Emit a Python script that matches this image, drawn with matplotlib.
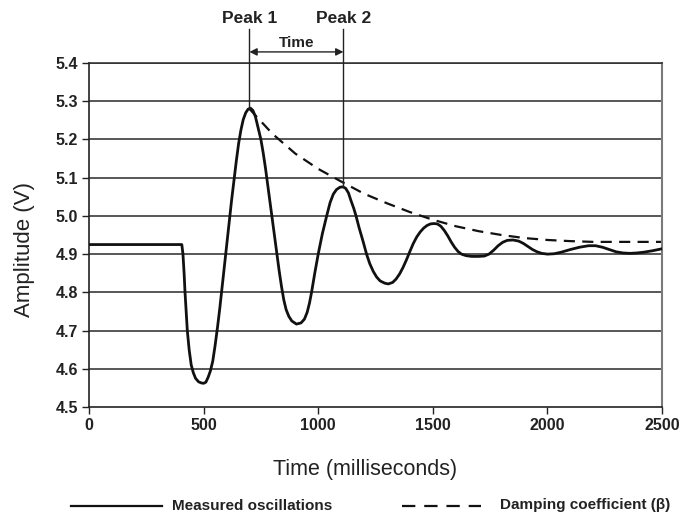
import matplotlib
matplotlib.use("Agg")
import matplotlib.pyplot as plt
from matplotlib.lines import Line2D

plt.rcParams['font.family'] = ['Liberation Sans', 'DejaVu Sans']

# Measured oscillations (time ms, amplitude V)
meas_t = [0, 405, 410, 415, 419, 424, 429, 437, 446, 455, 465, 478, 490, 500, 510,
          520, 530, 540, 550, 561, 571, 582, 592, 602, 612, 622, 633, 643, 653, 663,
          673, 684, 694, 704, 715, 726, 738, 750, 760, 770, 780, 790, 800, 810, 820,
          830, 840, 850, 860, 872, 885, 905, 925, 940, 952, 962, 971, 985, 1000, 1018,
          1037, 1052, 1066, 1080, 1095, 1108, 1120, 1132, 1143, 1155, 1165, 1178,
          1195, 1211, 1225, 1240, 1255, 1270, 1290, 1306, 1325, 1340, 1355, 1370,
          1385, 1400, 1415, 1430, 1445, 1460, 1475, 1490, 1505, 1520, 1535, 1550,
          1565, 1580, 1595, 1610, 1625, 1645, 1670, 1700, 1725, 1745, 1765, 1785,
          1805, 1825, 1850, 1875, 1895, 1915, 1935, 1955, 1975, 2000, 2030, 2060,
          2100, 2140, 2180, 2210, 2240, 2270, 2300, 2330, 2360, 2390, 2420, 2460, 2500]
meas_v = [4.925, 4.925, 4.90, 4.85, 4.80, 4.75, 4.70, 4.65, 4.61, 4.59, 4.575, 4.566,
          4.563, 4.562, 4.565, 4.578, 4.595, 4.62, 4.66, 4.71, 4.76, 4.82, 4.875, 4.93,
          4.985, 5.04, 5.095, 5.145, 5.19, 5.225, 5.252, 5.27, 5.279, 5.282, 5.276,
          5.26, 5.23, 5.20, 5.165, 5.125, 5.08, 5.035, 4.99, 4.945, 4.90, 4.855, 4.815,
          4.78, 4.755, 4.737, 4.725, 4.717, 4.72, 4.73, 4.748, 4.772, 4.80, 4.85, 4.90,
          4.953, 5.00, 5.035, 5.057, 5.069, 5.075, 5.076, 5.072, 5.06, 5.04, 5.02, 5.00,
          4.97, 4.935, 4.90, 4.875, 4.855, 4.84, 4.83, 4.824, 4.822, 4.826, 4.835,
          4.848, 4.865, 4.885, 4.907, 4.928, 4.945, 4.958, 4.968, 4.975, 4.979, 4.98,
          4.979, 4.973, 4.962, 4.948, 4.932, 4.918, 4.907, 4.90, 4.896, 4.894, 4.894,
          4.895, 4.90, 4.91, 4.922, 4.931, 4.936, 4.937, 4.934, 4.928, 4.92, 4.912,
          4.906, 4.902, 4.90, 4.901, 4.905, 4.912, 4.918, 4.922, 4.922, 4.918, 4.912,
          4.906, 4.903, 4.902, 4.903, 4.905, 4.909, 4.914]

# Damping envelope
damp_t = [700, 800, 900, 1000, 1100, 1200, 1300, 1400, 1500, 1600, 1700, 1800,
          1900, 2000, 2100, 2200, 2300, 2400, 2500]
damp_v = [5.28, 5.215, 5.163, 5.123, 5.09, 5.058, 5.033, 5.01, 4.99, 4.973, 4.96,
          4.95, 4.942, 4.937, 4.934, 4.932, 4.932, 4.932, 4.932]

peak_times = [700, 1110]
peak_values = [5.282, 5.076]
peak_labels = ["Peak 1", "Peak 2"]

y_ticks = [4.5, 4.6, 4.7, 4.8, 4.9, 5.0, 5.1, 5.2, 5.3, 5.4]
x_ticks = [0, 500, 1000, 1500, 2000, 2500]

fig = plt.figure(figsize=(6.93, 5.13), dpi=100)
ax = fig.add_axes([0.1284, 0.2066, 0.9553 - 0.1284, 0.8772 - 0.2066])

for yv in y_ticks[1:]:
    ax.axhline(yv, color='#2a2a2a', lw=1.1, zorder=1)

ax.plot(meas_t, meas_v, color='#111111', lw=2.0, zorder=3,
        solid_joinstyle='round', solid_capstyle='round')
ax.plot(damp_t, damp_v, color='#111111', lw=1.6, dashes=(5, 3.3), zorder=2)

ax.set_xlim(0, 2500)
ax.set_ylim(4.5, 5.4)
ax.set_xticks(x_ticks)
ax.set_yticks(y_ticks)
ax.set_yticklabels([f"{v:.1f}" for v in y_ticks])
ax.tick_params(axis='both', direction='out', length=5, width=1.0, color='#222222',
               labelsize=11.5, pad=3)
for lab in ax.get_xticklabels() + ax.get_yticklabels():
    lab.set_fontweight('bold')
    lab.set_color('#222222')

ax.spines['left'].set_color('#222222')
ax.spines['bottom'].set_color('#222222')
ax.spines['left'].set_linewidth(1.2)
ax.spines['bottom'].set_linewidth(1.2)
ax.spines['right'].set_color('#7a7a7a')
ax.spines['right'].set_linewidth(1.5)
ax.spines['top'].set_color('#2a2a2a')
ax.spines['top'].set_linewidth(1.1)

fig.text(365 / 693, 1 - 469 / 513, "Time (milliseconds)", ha='center', va='center',
         fontsize=15.5, color='#222222')
fig.text(24.5 / 693, 1 - 249.5 / 513, "Amplitude (V)", ha='center', va='center',
         rotation=90, fontsize=16, color='#222222')

# Peak markers
for t, v, lab in zip(peak_times, peak_values, peak_labels):
    ax.plot([t, t], [v, 5.49], color='#222222', lw=1.0, clip_on=False, zorder=4)
    ax.text(t, 5.516, lab, ha='center', va='center', fontsize=12.5,
            fontweight='bold', color='#222222', clip_on=False)

ax.annotate("", xy=(peak_times[0], 5.429), xytext=(peak_times[1], 5.429),
            arrowprops=dict(arrowstyle='<|-|>', color='#222222', lw=1.0,
                            mutation_scale=11, shrinkA=0, shrinkB=0),
            annotation_clip=False)
ax.text(sum(peak_times) / 2, 5.453, "Time", ha='center', va='center',
        fontsize=11, fontweight='bold', color='#222222')

# Legend drawn below the chart
ly = 1 - 505.5 / 513
fig.add_artist(Line2D([71 / 693, 162 / 693], [ly, ly], color='#111111', lw=1.6))
fig.text(172 / 693, ly, "Measured oscillations", ha='left', va='center',
         fontsize=11, fontweight='bold', color='#222222')
fig.add_artist(Line2D([402 / 693, 481 / 693], [ly, ly], color='#111111', lw=1.6,
                      dashes=(6, 4)))
fig.text(500 / 693, ly, "Damping coefficient (\u03b2)", ha='left', va='center',
         fontsize=11, fontweight='bold', color='#222222')

fig.savefig("out.png", dpi=100)
